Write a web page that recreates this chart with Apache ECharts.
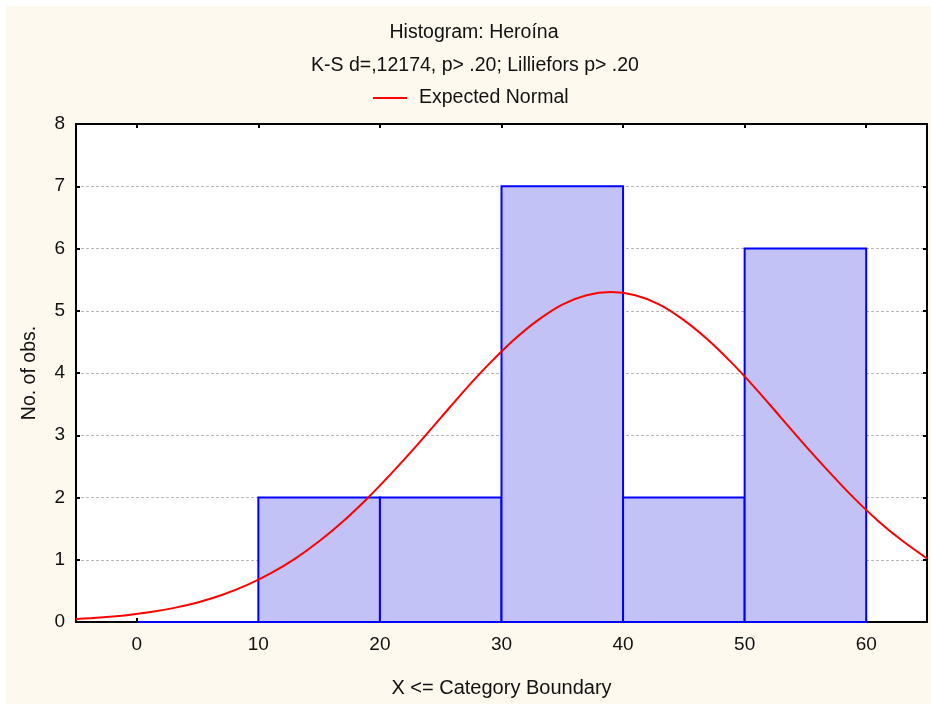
<!DOCTYPE html>
<html>
<head>
<meta charset="utf-8">
<script src="https://cdn.jsdelivr.net/npm/echarts@6/dist/echarts.min.js"></script>
<style>
html,body{margin:0;padding:0;background:#ffffff;}
#c{width:931px;height:704px;}
</style>
</head>
<body>
<div id="c"></div>
<script>
// Data
var binStart = [0, 10, 20, 30, 40, 50];
var binEnd   = [10, 20, 30, 40, 50, 60];
var counts   = [0, 2, 2, 7, 2, 6];

var normalX = [-5, -3, -1, 1, 3, 5, 7, 9, 11, 13, 15, 17, 19, 21, 23, 25, 27, 29, 31, 33, 35, 37, 39, 41, 43, 45, 47, 49, 51, 53, 55, 57, 59, 61, 63, 65];
var normalY = [0.047, 0.071, 0.106, 0.155, 0.223, 0.314, 0.433, 0.587, 0.780, 1.015, 1.296, 1.623, 1.993, 2.40, 2.83, 3.28, 3.73, 4.15, 4.53, 4.85, 5.10, 5.25, 5.30, 5.25, 5.10, 4.85, 4.53, 4.15, 3.73, 3.28, 2.83, 2.40, 1.99, 1.62, 1.30, 1.02];

var xTicks = [0, 10, 20, 30, 40, 50, 60];
var titleText = 'Histogram: Heroína';
var subtitleText = 'K-S d=,12174, p> .20; Lilliefors p> .20';
var legendText = 'Expected Normal';
var xName = 'X <= Category Boundary';
var yName = 'No. of obs.';

var histData = binStart.map(function (s, i) { return [s, binEnd[i], counts[i]]; });
var lineData = normalX.map(function (x, i) { return [x, normalY[i]]; });

var FONT = '"Liberation Sans", Arial, sans-serif';
var chart = echarts.init(document.getElementById('c'), null, {renderer: 'canvas'});

var axisCommon = {
  type: 'value',
  axisLine: {show: true, onZero: false, lineStyle: {color: '#000', width: 2}},
  splitLine: {show: false}
};

chart.setOption({
  backgroundColor: 'transparent',
  animation: false,
  graphic: [
    {type: 'rect', left: 6, top: 6, shape: {width: 925, height: 698}, style: {fill: '#fdf9ef'}, z: -100, silent: true},
    {type: 'text', x: 474, y: 33, style: {text: titleText, font: '19.5px ' + FONT, fill: '#111', align: 'center', verticalAlign: 'middle'}},
    {type: 'text', x: 475, y: 66, style: {text: subtitleText, font: '19.5px ' + FONT, fill: '#111', align: 'center', verticalAlign: 'middle'}}
  ],
  legend: {
    left: 373, top: 88, padding: 0,
    itemWidth: 34, itemHeight: 2, itemGap: 10,
    textStyle: {fontFamily: FONT, fontSize: 19.5, color: '#111', padding: [0, 0, 0, 7]},
    data: [{name: legendText, icon: 'rect', itemStyle: {color: '#ff0000'}}]
  },
  grid: {left: 76, top: 124, right: 4, bottom: 82, show: true, backgroundColor: '#ffffff', borderColor: '#000', borderWidth: 2},
  xAxis: [
    Object.assign({}, axisCommon, {
      position: 'bottom', min: -5, max: 65,
      name: xName, nameLocation: 'middle', nameGap: 56,
      nameTextStyle: {fontFamily: FONT, fontSize: 20, color: '#111'},
      axisTick: {show: true, inside: true, length: 4, lineStyle: {color: '#000', width: 2}, customValues: xTicks},
      axisLabel: {show: true, margin: 13, fontFamily: FONT, fontSize: 19, color: '#111', customValues: xTicks}
    }),
    Object.assign({}, axisCommon, {
      position: 'top', min: -5, max: 65,
      axisTick: {show: true, inside: true, length: 4, lineStyle: {color: '#000', width: 2}, customValues: xTicks},
      axisLabel: {show: false}
    })
  ],
  yAxis: [
    Object.assign({}, axisCommon, {
      position: 'left', min: 0, max: 8, interval: 1,
      name: yName, nameLocation: 'middle', nameGap: 36, nameRotate: 90,
      nameTextStyle: {fontFamily: FONT, fontSize: 19.5, color: '#111'},
      axisTick: {show: true, inside: true, length: 4, lineStyle: {color: '#000', width: 2}},
      axisLabel: {show: true, margin: 11, fontFamily: FONT, fontSize: 19, color: '#111'},
      splitLine: {show: true, lineStyle: {color: '#b8b8b8', width: 1, type: [3, 2]}}
    }),
    Object.assign({}, axisCommon, {
      position: 'right', min: 0, max: 8, interval: 1,
      axisTick: {show: true, inside: true, length: 4, lineStyle: {color: '#000', width: 2}},
      axisLabel: {show: false}
    })
  ],
  series: [
    {
      type: 'custom',
      name: 'Histogram',
      xAxisIndex: 0, yAxisIndex: 0,
      encode: {x: [0, 1], y: 2},
      data: histData,
      renderItem: function (params, api) {
        var p0 = api.coord([api.value(0), api.value(2)]);
        var p1 = api.coord([api.value(1), 0]);
        return {
          type: 'rect',
          shape: {x: p0[0], y: p0[1], width: p1[0] - p0[0], height: p1[1] - p0[1]},
          style: {fill: '#c2c2f6', stroke: '#0000ff', lineWidth: 2}
        };
      },
      z: 2
    },
    {
      type: 'line',
      name: legendText,
      xAxisIndex: 0, yAxisIndex: 0,
      data: lineData,
      smooth: 0.3,
      showSymbol: false,
      symbol: 'none',
      lineStyle: {color: '#ff0000', width: 2},
      itemStyle: {color: '#ff0000'},
      z: 5
    }
  ]
});
</script>
</body>
</html>
